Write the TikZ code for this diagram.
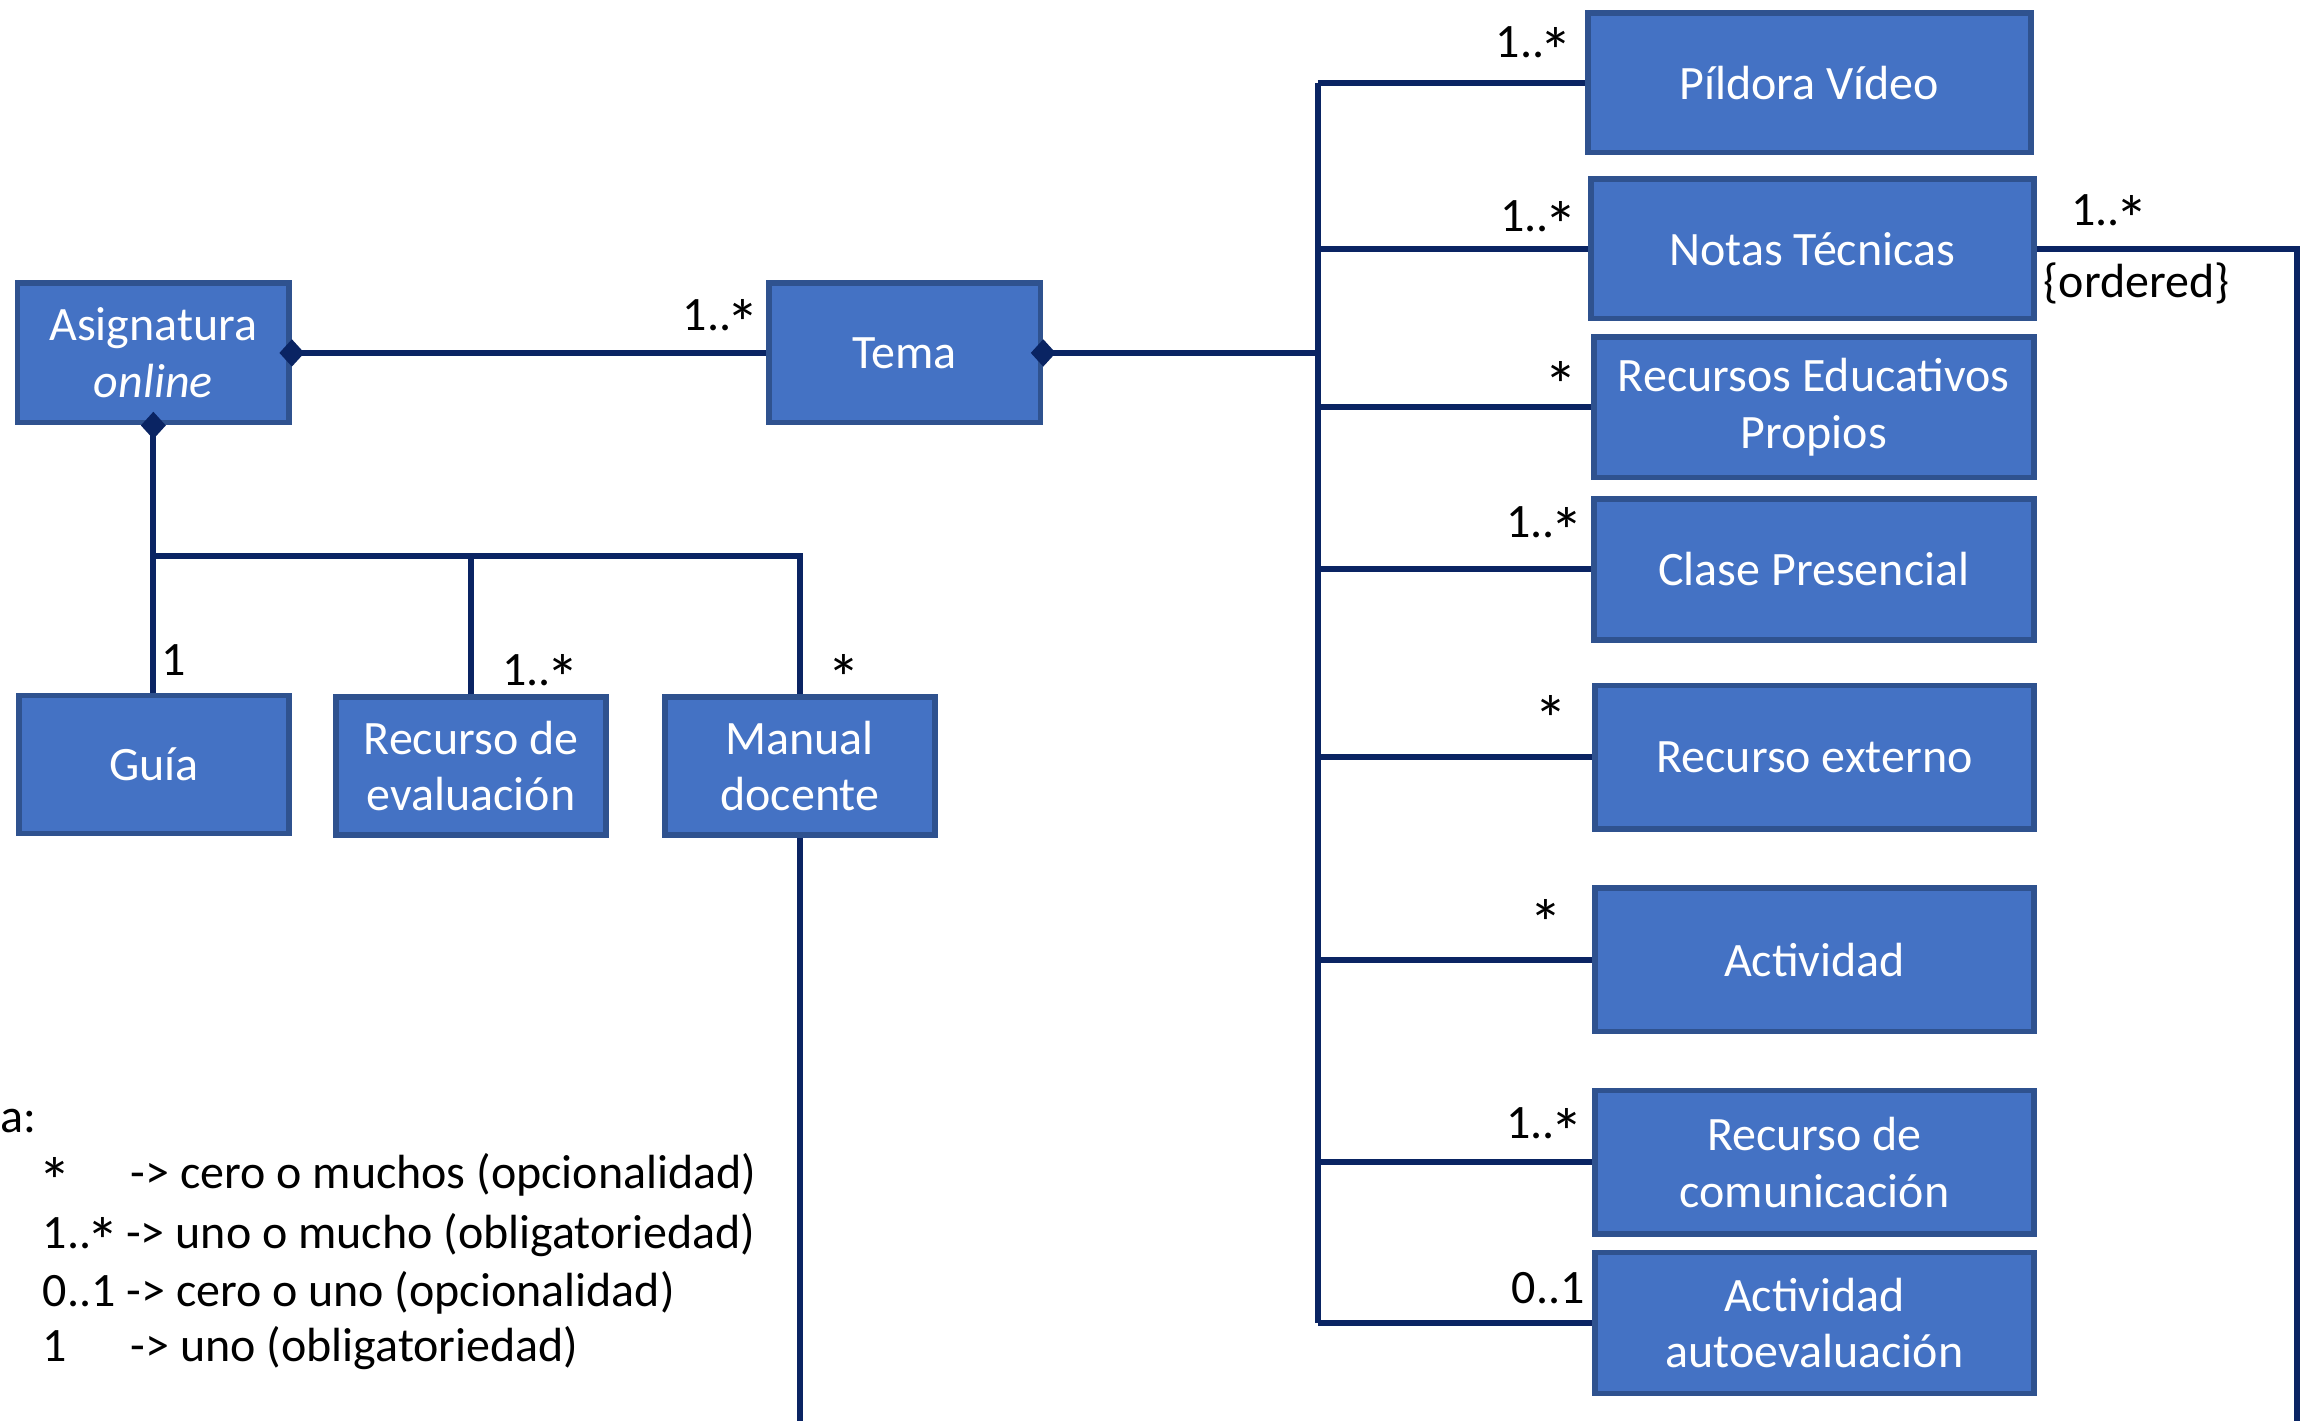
\documentclass[tikz,border=0pt]{standalone}
\usepackage{fontspec}
\usepackage{graphicx}
\setmainfont{Carlito}
\usetikzlibrary{shapes.geometric,calc}
\newlength\pu
\setlength\pu{0.367pt}
\newcommand\bigast{\makebox[0.5em]{\raisebox{-0.34em}[0.62em][0pt]{\scalebox{1.38}{*}}}}
\definecolor{boxfill}{HTML}{4472C4}
\definecolor{boxline}{HTML}{2F528F}
\definecolor{navy}{HTML}{0A2463}
\begin{document}
\begin{tikzpicture}[x=0.367pt,y=-0.367pt,
  box/.style={draw=boxline, fill=boxfill, line width=1.4pt, text=white,
    font=\fontsize{12}{14.2}\selectfont, align=center, inner sep=0pt},
  lbl/.style={font=\fontsize{12}{14.2}\selectfont, inner sep=0pt, anchor=base},
  leg/.style={font=\fontsize{12}{14.2}\selectfont, inner sep=0pt, anchor=base west},
  conn/.style={draw=navy, line width=1.45pt},
  dmd/.style={diamond, fill=navy, draw=none, inner sep=0pt, minimum width=6.4pt, minimum height=7pt}]
\useasboundingbox (0,0) rectangle (1568,968);

% boxes
\node (asig) [box, minimum width=185\pu, minimum height=95\pu] at (104.5,240.5) {Asignatura\\\textit{online}};
\node (tema) [box, minimum width=185\pu, minimum height=95\pu] at (616.5,240.5) {Tema};
\node (guia) [box, minimum width=184\pu, minimum height=94\pu] at (105,521) {Guía};
\node (receval) [box, minimum width=184\pu, minimum height=94\pu] at (321,522) {Recurso de\\evaluación};
\node (manual) [box, minimum width=184\pu, minimum height=94\pu] at (545,522) {Manual\\docente};

\node (pildora) [box, minimum width=302\pu, minimum height=95\pu] at (1233,56.5) {Píldora Vídeo};
\node (notas) [box, minimum width=302\pu, minimum height=95\pu] at (1235,169.5) {Notas Técnicas};
\node (propios) [box, minimum width=300\pu, minimum height=96\pu] at (1236,277.5) {Recursos Educativos\\Propios};
\node (clase) [box, minimum width=300\pu, minimum height=96\pu] at (1236,388) {Clase Presencial};
\node (externo) [box, minimum width=299\pu, minimum height=98\pu] at (1236.5,516) {Recurso externo};
\node (activ) [box, minimum width=299\pu, minimum height=98\pu] at (1236.5,654) {Actividad};
\node (recom) [box, minimum width=299\pu, minimum height=98\pu] at (1236.5,792) {Recurso de\\comunicación};
\node (autoev) [box, minimum width=299\pu, minimum height=96\pu] at (1236.5,901.5) {Actividad\\autoevaluación};

% junction coordinates
\coordinate (lb) at (104.5,379);
\coordinate (mb) at (545,968);
\coordinate (rb) at (898,0);
\coordinate (rr) at (1565,968);

% left connectors
\draw[conn] (asig.east) -- (tema.west);
\draw[conn] (asig.south) -- (asig.south |- guia.north);
\draw[conn] (lb) -| (manual.north);
\draw[conn] (receval.north) -- (receval.north |- lb);
\draw[conn] (manual.south) -- (manual.south |- mb);

% right connectors
\draw[conn] (tema.east) -- (rb |- tema.east);
\draw[conn] (rb |- pildora.west) -- (rb |- autoev.west);
\foreach \n in {pildora,notas,propios,clase,externo,activ,recom,autoev}
  \draw[conn] (rb |- \n.west) -- (\n.west);
\draw[conn] (notas.east) -| (rr);

% diamonds
\node[dmd] (d1) at (asig.east) {};
\node[dmd] (d2) at (asig.south) {};
\node[dmd] (d3) at (tema.east) {};

% multiplicities
\node[lbl] (m1) at (490,225) {1..\bigast};
\node[lbl] (m2) at (118,460) {1};
\node[lbl] (m3) at (367,467) {1..\bigast};
\node[lbl] (m4) at (575,467) {\bigast};
\node[lbl] (m5) at (1044,39.5) {1..\bigast};
\node[lbl] (m6) at (1047,158) {1..\bigast};
\node[lbl] (m7) at (1064,267.5) {\bigast};
\node[lbl] (m8) at (1051,366.5) {1..\bigast};
\node[lbl] (m9) at (1057,495) {\bigast};
\node[lbl] (m10) at (1053.5,634) {\bigast};
\node[lbl] (m11) at (1051,776) {1..\bigast};
\node[lbl] (m12) at (1055,888) {0..1};
\node[lbl] (m13) at (1436,154) {1..\bigast};
\node[lbl] (m14) at (1456,203) {\{ordered\}};

% legend
\node[leg] (l0) at (0,772) {a:};
\node[leg] (l1a) at (28.7,809.7) {\bigast};
\node[leg] (l1b) at (88.6,809.7) {-> cero o muchos (opcionalidad)};
\node[leg] (l2) at (28.7,850.6) {1..\bigast{} -> uno o mucho (obligatoriedad)};
\node[leg] (l3) at (28.7,890.5) {0..1 -> cero o uno (opcionalidad)};
\node[leg] (l4a) at (28.7,928) {1};
\node[leg] (l4b) at (88.6,928) {-> uno (obligatoriedad)};
\end{tikzpicture}
\end{document}
